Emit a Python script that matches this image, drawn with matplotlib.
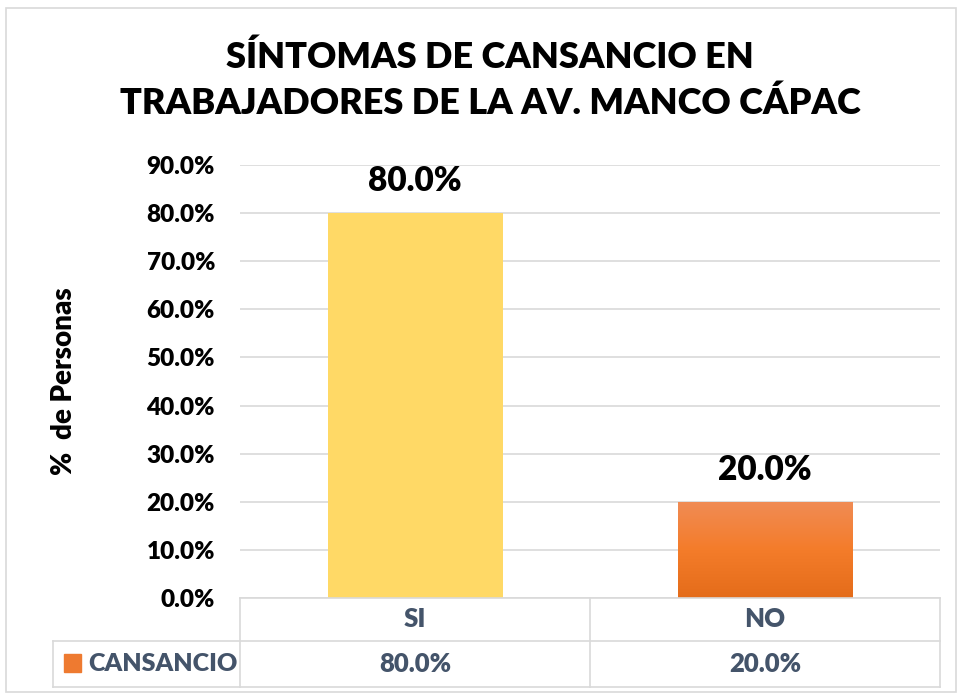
import matplotlib.pyplot as plt
import numpy as np
from matplotlib.lines import Line2D
from matplotlib.patches import Rectangle
from matplotlib.colors import LinearSegmentedColormap

categorias = ["SI", "NO"]
valores = [80.0, 20.0]
serie = "CANSANCIO"
titulo = "SÍNTOMAS DE CANSANCIO EN\nTRABAJADORES DE LA AV. MANCO CÁPAC"

plt.rcParams['font.family'] = ['Lato', 'DejaVu Sans']
plt.rcParams['font.weight'] = 'bold'

W = 960.0
H = 694.0

def fx(x):
	return x / W

def fy(y):
	return 1 - y / H

def main():
	fig = plt.figure(figsize=(9.6, 6.94), dpi=100)
	ax = plt.axes([fx(240), fy(598), fx(700), (598 - 165) / H])
	x = np.arange(len(categorias))
	bars = plt.bar(x, valores, width=0.5, color=["#FFD966", "#F47C2A"], zorder=3)
	# degradado naranja para la barra NO
	naranja = LinearSegmentedColormap.from_list("nar", ["#E46C1A", "#F47C2A", "#F08C55"])
	b = bars[1]
	grad = np.linspace(0, 1, 256).reshape(-1, 1)
	im = plt.imshow(grad, cmap=naranja, origin="lower", aspect="auto", zorder=4,
		extent=[b.get_x(), b.get_x() + b.get_width(), 0, b.get_height()])
	im.set_clip_path(b)
	plt.xlim(-0.5, len(categorias) - 0.5)
	plt.ylim(0, 90)
	plt.yticks(np.arange(0, 91, 10), ["%.1f%%" % v for v in np.arange(0, 91, 10)], fontsize=17.5, fontweight="heavy")
	plt.xticks([])
	ax.tick_params(axis="y", length=0, pad=18)
	plt.grid(axis="y", color="#D9D9D9", linewidth=1.2, zorder=0)
	for s in ax.spines.values():
		s.set_visible(False)
	for i in range(len(valores)):
		plt.text(x[i], valores[i] + 6.6, "%.1f%%" % valores[i], ha="center", va="center", fontsize=24, fontweight="heavy")
	plt.ylabel("%  de Personas", fontsize=20, fontweight="heavy", labelpad=50)

	plt.figtext(fx(490), fy(80), titulo, ha="center", va="center", fontsize=26, fontweight="heavy", linespacing=1.45)

	# tabla de datos
	gris = "#D9D9D9"
	lineas = [((240, 940), (598, 598)), ((53, 940), (641, 641)), ((53, 940), (687, 687)),
		((240, 240), (598, 687)), ((590, 590), (598, 687)), ((940, 940), (598, 687)), ((53, 53), (641, 687))]
	for (xa, xb), (ya, yb) in lineas:
		fig.add_artist(Line2D([fx(xa), fx(xb)], [fy(ya), fy(yb)], color=gris, linewidth=1.2))
	for i in range(len(categorias)):
		cx = fx(240 + 350 * i + 175)
		plt.figtext(cx, fy(619), categorias[i], ha="center", va="center", fontsize=18.5, fontweight="heavy", color="#44546A")
		plt.figtext(cx, fy(664), "%.1f%%" % valores[i], ha="center", va="center", fontsize=18.5, fontweight="heavy", color="#44546A")
	fig.add_artist(Rectangle((fx(64), fy(672)), fx(17), 18 / H, color="#EE7A30"))
	plt.figtext(fx(88), fy(664), serie, ha="left", va="center", fontsize=18, fontweight="heavy", color="#44546A")

	# borde exterior
	fig.add_artist(Rectangle((fx(6), fy(692)), fx(950), 684 / H, fill=False, edgecolor=gris, linewidth=1.2))

	plt.savefig("out.png", dpi=100)

if __name__ == "__main__":
	main()
